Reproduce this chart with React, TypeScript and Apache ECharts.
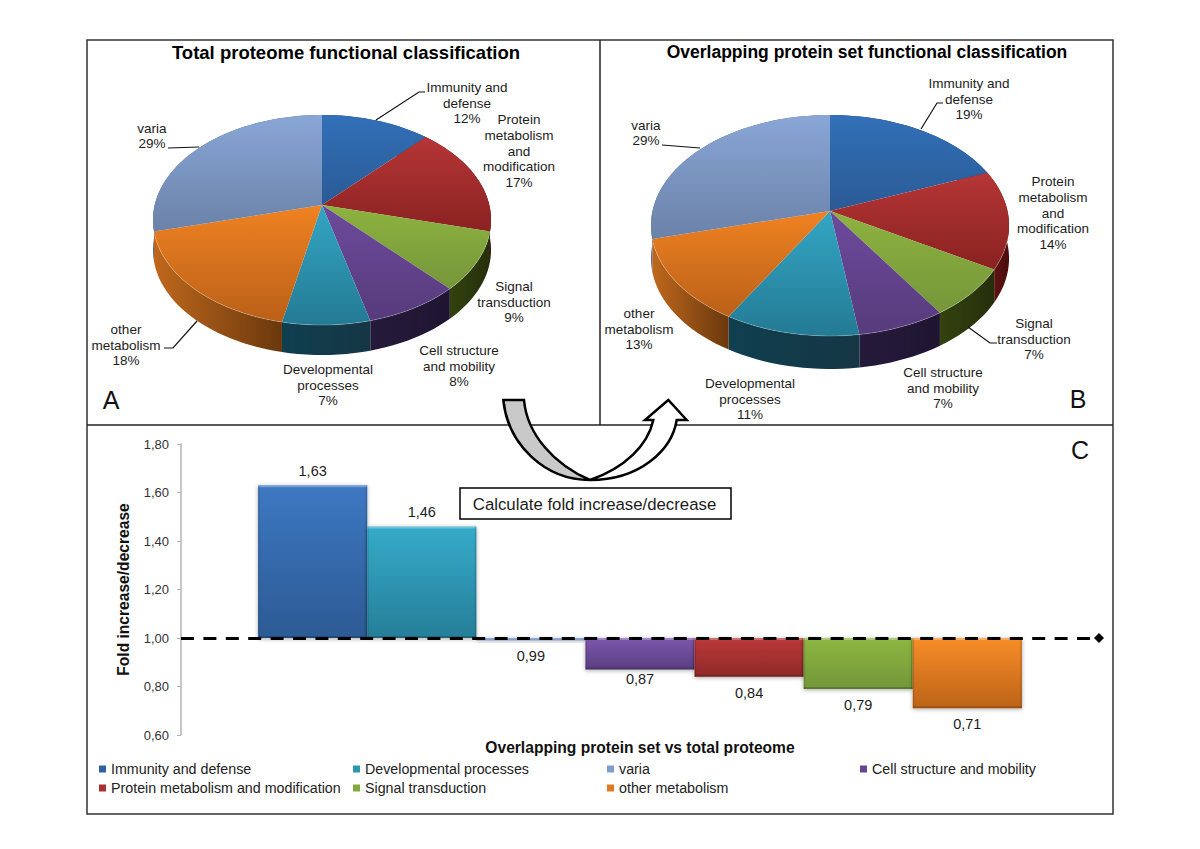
import React, { useEffect, useRef } from "react";
import * as echarts from "echarts";

const sliceNames = [
  "Immunity and defense",
  "Protein metabolism and modification",
  "Signal transduction",
  "Cell structure and mobility",
  "Developmental processes",
  "other metabolism",
  "varia",
];
const totalShares = [12, 17, 9, 8, 7.3, 17.7, 29];
const overlapShares = [19, 14.4, 7.3, 7, 10.75, 12.55, 29];

const barNames = [
  "Immunity and defense",
  "Developmental processes",
  "varia",
  "Cell structure and mobility",
  "Protein metabolism and modification",
  "Signal transduction",
  "other metabolism",
];
const foldValues = [1.63, 1.46, 0.99, 0.87, 0.84, 0.79, 0.71];
const yTicks = { min: 0.6, max: 1.8, interval: 0.2 };
const baseline = 1;

const labelLines: Record<string, string[]> = {
  "Immunity and defense": ["Immunity and", "defense"],
  "Protein metabolism and modification": ["Protein", "metabolism", "and", "modification"],
  "Signal transduction": ["Signal", "transduction"],
  "Cell structure and mobility": ["Cell structure", "and mobility"],
  "Developmental processes": ["Developmental", "processes"],
  "other metabolism": ["other", "metabolism"],
  varia: ["varia"],
};

const palette: Record<string, any> = {
  "Immunity and defense": { top: "#3270b8", bottom: "#2a5a95", wall: ["#1d3f68", "#1d3f68"], bar: ["#3d78c2", "#2c5a94"], key: "#2f62a3" },
  "Protein metabolism and modification": { top: "#b63636", bottom: "#8a2121", wall: ["#6a1515", "#4a0c0c"], bar: ["#bb3838", "#8f2929"], key: "#a83232" },
  "Signal transduction": { top: "#8db33f", bottom: "#76963a", wall: ["#33420f", "#252f0b"], bar: ["#8fb742", "#729638"], key: "#84a93c" },
  "Cell structure and mobility": { top: "#6d4a9c", bottom: "#573b7c", wall: ["#261a3c", "#1f1530"], bar: ["#7d56ae", "#5a3e80"], key: "#66468f" },
  "Developmental processes": { top: "#33a6c4", bottom: "#247a94", wall: ["#0f3f50", "#163644"], bar: ["#35abc9", "#267e99"], key: "#2d95b2" },
  "other metabolism": { top: "#f08222", bottom: "#ba6018", wall: ["#bf681c", "#6a380d"], bar: ["#f88d29", "#bc6318"], key: "#e07a20" },
  varia: { top: "#89a6d7", bottom: "#6b82a8", wall: ["#52678a", "#52678a"], bar: ["#93add9", "#7c97c4"], key: "#7f9ccb" },
};

const FONT = '"Liberation Sans", Arial, sans-serif';
const TEXT = "#1c1c1c";

const pieA = { cx: 322, cy: 205, a: 167.3, b: 102.9, k: 1 / 7, depth: 30 };
const pieB = { cx: 830, cy: 211, a: 177.5, b: 108.6, k: 0.131, depth: 33 };

const project = (g: any, share: number) => {
  const t = (share / 100) * Math.PI * 2;
  const u = Math.sin(t);
  const v = Math.cos(t);
  const w = 1 + g.k * v;
  return [g.cx + (g.a * u) / w, g.cy - (g.b * v) / w];
};

const rimPoints = (g: any, from: number, to: number) => {
  const n = Math.max(4, Math.ceil((to - from) * 1.5));
  const pts: number[][] = [];
  for (let i = 0; i <= n; i++) pts.push(project(g, from + ((to - from) * i) / n));
  return pts;
};

const cumulative = (vals: number[]) => {
  const out = [0];
  vals.forEach((v) => out.push(out[out.length - 1] + v));
  return out;
};

const pieSeries = (name: string, g: any, shares: number[]) => {
  const cum = cumulative(shares);
  const wall = {
    type: "custom",
    name: name + " side",
    coordinateSystem: "none",
    silent: true,
    z: 2,
    data: shares,
    renderItem: (params: any) => {
      const i = params.dataIndex;
      const rim = rimPoints(g, cum[i], cum[i + 1]);
      const low = rim.map((p) => [p[0], p[1] + g.depth]).reverse();
      const c = palette[sliceNames[i]].wall;
      return {
        type: "polygon",
        shape: { points: rim.concat(low) },
        style: {
          fill: new echarts.graphic.LinearGradient(0, 0, 1, 0, [
            { offset: 0, color: c[0] },
            { offset: 1, color: c[1] },
          ]),
        },
      };
    },
  };
  const face = {
    type: "custom",
    name,
    coordinateSystem: "none",
    silent: true,
    z: 3,
    data: shares,
    renderItem: (params: any) => {
      const i = params.dataIndex;
      const rim = rimPoints(g, cum[i], cum[i + 1]);
      const c = palette[sliceNames[i]];
      const front = rim.filter((p) => p[1] > g.cy + 25);
      const children: any[] = [
        {
          type: "polygon",
          shape: { points: [[g.cx, g.cy]].concat(rim) },
          style: {
            fill: new echarts.graphic.LinearGradient(0, 0, 0, 1, [
              { offset: 0, color: c.top },
              { offset: 1, color: c.bottom },
            ]),
          },
        },
      ];
      if (front.length > 1) {
        children.push({
          type: "polyline",
          shape: { points: front },
          style: { fill: "none", stroke: "rgba(255,255,255,0.22)", lineWidth: 1 },
        });
      }
      return { type: "group", children };
    },
  };
  return [wall, face];
};

const barShare = 0.832;
const barLabelGap: Record<string, number> = { "Cell structure and mobility": 9 };

const barSeries = barNames.map((name, idx) => ({
  type: "custom",
  name,
  coordinateSystem: "cartesian2d",
  silent: true,
  z: 3,
  itemStyle: { color: palette[name].key },
  encode: { x: 0, y: 1 },
  data: [[0, foldValues[idx]]],
  renderItem: (_p: any, api: any) => {
    const v = api.value(1);
    const end = api.coord([0, v]);
    const base = api.coord([0, baseline]);
    const w = (api.size([1, 0])[0] * barShare) / barNames.length;
    const x = end[0] + (idx - barNames.length / 2) * w;
    const top = Math.min(end[1], base[1]);
    const h = Math.abs(end[1] - base[1]);
    const c = palette[name].bar;
    const children: any[] = [
      {
        type: "rect",
        shape: { x, y: top, width: w, height: h },
        style: {
          fill: new echarts.graphic.LinearGradient(0, 0, 0, 1, [
            { offset: 0, color: c[0] },
            { offset: 1, color: c[1] },
          ]),
          shadowBlur: 4,
          shadowColor: "rgba(0,0,0,0.35)",
          shadowOffsetY: 1,
        },
      },
    ];
    if (h > 6) {
      children.push(
        { type: "rect", shape: { x, y: top, width: w, height: 2 }, style: { fill: "rgba(255,255,255,0.28)" } },
        { type: "rect", shape: { x, y: top + h - 2, width: w, height: 2 }, style: { fill: "rgba(0,0,0,0.18)" } },
        { type: "rect", shape: { x, y: top, width: 1.5, height: h }, style: { fill: "rgba(0,0,0,0.12)" } },
        { type: "rect", shape: { x: x + w - 1.5, y: top, width: 1.5, height: h }, style: { fill: "rgba(0,0,0,0.16)" } }
      );
    }
    const up = v >= baseline;
    const gap = barLabelGap[name] ?? (up ? 14 : 16);
    children.push({
      type: "text",
      style: {
        text: v.toFixed(2).replace(".", ","),
        x: x + w / 2,
        y: up ? top - gap : top + h + gap,
        align: "center",
        verticalAlign: "middle",
        font: `14.5px ${FONT}`,
        fill: TEXT,
      },
    });
    return { type: "group", children };
  },
}));

const pieLabelPlaces: Record<string, number[][]> = {
  A: [
    [467, 103],
    [519, 151],
    [514, 302],
    [459, 366],
    [328, 385],
    [126, 345],
    [152, 136],
  ],
  B: [
    [969, 99],
    [1053, 213],
    [1034, 339],
    [943, 388],
    [750, 399],
    [639, 329],
    [646, 133],
  ],
};

const pieLabels = (key: string, shares: number[]) =>
  sliceNames.map((name, i) => ({
    type: "text",
    z: 20,
    style: {
      text: labelLines[name].concat(`${Math.round(shares[i])}%`).join("\n"),
      x: pieLabelPlaces[key][i][0],
      y: pieLabelPlaces[key][i][1],
      align: "center",
      verticalAlign: "middle",
      lineHeight: 15.6,
      font: `13.5px ${FONT}`,
      fill: TEXT,
    },
  }));

const leaders = [
  [[376, 120], [419, 92], [425, 92]],
  [[168, 148], [199, 147]],
  [[197, 321], [173, 348], [164, 348]],
  [[921, 129], [937, 103], [943, 103]],
  [[662, 145], [700, 148]],
  [[968, 327], [990, 343], [997, 343]],
];

const heading = (text: string, x: number, size: number) => ({
  type: "text",
  z: 20,
  style: { text, x, y: 52, align: "center", verticalAlign: "middle", font: `bold ${size}px ${FONT}`, fill: "#000" },
});

const panelLetter = (text: string, x: number, y: number) => ({
  type: "text",
  z: 20,
  style: { text, x, y, align: "center", verticalAlign: "middle", font: `25px ${FONT}`, fill: "#111" },
});

const legendColumns = [
  { left: 99, names: ["Immunity and defense", "Protein metabolism and modification"] },
  { left: 353, names: ["Developmental processes", "Signal transduction"] },
  { left: 607, names: ["varia", "other metabolism"] },
  { left: 860, names: ["Cell structure and mobility"] },
];

echarts.graphic.registerShape(
  "arrowGrey",
  echarts.graphic.extendPath("M503.3 400 L524 400 C527 435 555 465 590 480 C545 480 508 445 503.3 400 Z", {})
);
echarts.graphic.registerShape(
  "arrowWhite",
  echarts.graphic.extendPath(
    "M590 480 C640 480 672 450 676.7 420 L686.7 420 L668.3 400 L645 420 L653.3 420 C648 445 625 468 590 480 Z",
    {}
  )
);

export default function App() {
  const ref = useRef<HTMLDivElement>(null);
  useEffect(() => {
    const chart = echarts.init(ref.current!, undefined, { renderer: "svg" });
    chart.setOption({
      animation: false,
      backgroundColor: "#fff",
      textStyle: { fontFamily: FONT },
      grid: { left: 181, top: 444, width: 918, height: 291, containLabel: false },
      xAxis: {
        type: "category",
        data: [""],
        name: "Overlapping protein set vs total proteome",
        nameLocation: "middle",
        nameGap: 4,
        nameTextStyle: { fontWeight: "bold", fontSize: 15.6, color: "#111", fontFamily: FONT },
        axisLine: { show: false },
        axisTick: { show: false },
        axisLabel: { show: false },
      },
      yAxis: {
        type: "value",
        min: yTicks.min,
        max: yTicks.max,
        interval: yTicks.interval,
        name: "Fold increase/decrease",
        nameLocation: "middle",
        nameGap: 50,
        nameTextStyle: { fontWeight: "bold", fontSize: 15.6, color: "#111", fontFamily: FONT },
        axisLine: { show: true, lineStyle: { color: "#b5b5b5", width: 1.5 } },
        axisTick: { show: true, length: 4, lineStyle: { color: "#b5b5b5", width: 1 } },
        axisLabel: {
          fontSize: 13,
          margin: 12,
          color: "#333",
          fontFamily: FONT,
          formatter: (v: number) => v.toFixed(2).replace(".", ","),
        },
        splitLine: { show: false },
      },
      legend: legendColumns.map((col) => ({
        orient: "vertical",
        left: col.left,
        top: 762,
        padding: 0,
        itemGap: 5,
        itemWidth: 7,
        itemHeight: 7,
        icon: "rect",
        selectedMode: false,
        data: col.names,
        textStyle: { fontSize: 14.25, color: "#222", fontFamily: FONT, padding: [0, 0, 0, 0] },
      })),
      series: [
        ...pieSeries("Total proteome", pieA, totalShares),
        ...pieSeries("Overlapping protein set", pieB, overlapShares),
        ...barSeries,
        {
          type: "line",
          name: "Baseline",
          data: [baseline],
          showSymbol: false,
          silent: true,
          lineStyle: { opacity: 0 },
          z: 5,
          markLine: {
            silent: true,
            animation: false,
            symbol: ["none", "diamond"],
            symbolSize: 10,
            label: { show: false },
            lineStyle: { color: "#000", type: [13, 9.4], width: 3 },
            data: [{ yAxis: baseline }],
          },
        },
      ],
      graphic: [
        { type: "rect", z: 1, shape: { x: 87, y: 40, width: 1026, height: 774 }, style: { fill: "none", stroke: "#333", lineWidth: 1.5 } },
        { type: "line", z: 1, shape: { x1: 600, y1: 40, x2: 600, y2: 425 }, style: { stroke: "#222", lineWidth: 1.5 } },
        { type: "line", z: 1, shape: { x1: 87, y1: 425, x2: 1113, y2: 425 }, style: { stroke: "#222", lineWidth: 1.5 } },
        heading("Total proteome functional classification", 346, 18.5),
        heading("Overlapping protein set functional classification", 867, 17.5),
        panelLetter("A", 111, 400),
        panelLetter("B", 1078, 399),
        panelLetter("C", 1080, 450),
        ...leaders.map((points) => ({
          type: "polyline",
          z: 20,
          shape: { points },
          style: { fill: "none", stroke: "#111", lineWidth: 1.2 },
        })),
        ...pieLabels("A", totalShares),
        ...pieLabels("B", overlapShares),
        { type: "arrowWhite", z: 21, style: { fill: "#fff", stroke: "#000", lineWidth: 2.5 } },
        { type: "arrowGrey", z: 22, style: { fill: "#c9c9c9", stroke: "#000", lineWidth: 2.5 } },
        { type: "rect", z: 23, shape: { x: 460, y: 488, width: 271, height: 31 }, style: { fill: "#fff", stroke: "#000", lineWidth: 1.5 } },
        {
          type: "text",
          z: 24,
          style: { text: "Calculate fold increase/decrease", x: 594.5, y: 504, align: "center", verticalAlign: "middle", font: `16.8px ${FONT}`, fill: TEXT },
        },
      ],
    });
    return () => chart.dispose();
  }, []);
  return <div ref={ref} style={{ position: "absolute", left: 0, top: 0, width: 1200, height: 849 }} />;
}
